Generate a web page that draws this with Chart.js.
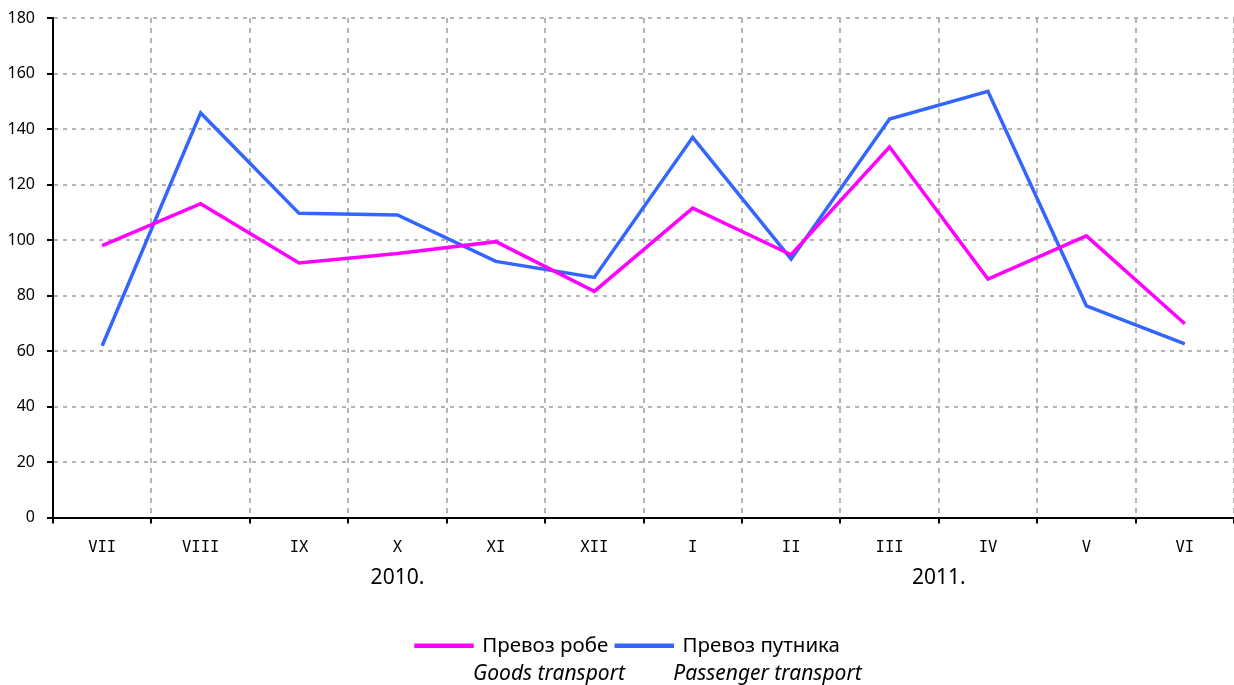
<!DOCTYPE html>
<html>
<head>
<meta charset="utf-8">
<script src="https://cdn.jsdelivr.net/npm/chart.js@4"></script>
<style>
body { margin: 0; background: #fff; }
#wrap { width: 1234px; height: 685px; }
</style>
</head>
<body>
<div id="wrap"><canvas id="chartLine"></canvas></div>
<script>
// podaci
var months = ['VII', 'VIII', 'IX', 'X', 'XI', 'XII', 'I', 'II', 'III', 'IV', 'V', 'VI'];
var goods = [98.0, 113.1, 91.7, 95.1, 99.4, 81.5, 111.5, 94.7, 133.5, 85.9, 101.5, 69.8];
var passengers = [61.9, 145.8, 109.6, 109.0, 92.3, 86.5, 137.0, 93.1, 143.6, 153.6, 76.3, 62.6];
var seriesNames = ['Превоз робе', 'Превоз путника'];
var seriesNamesEn = ['Goods transport', 'Passenger transport'];
var years = ['2010.', '2011.'];
var yTicks = [0, 20, 40, 60, 80, 100, 120, 140, 160, 180];

var FONT = '"Noto Sans", "DejaVu Sans", sans-serif';

/* godine ispod meseci + engleski nazivi u legendi */
var extraText = {
    id: 'extraText',
    afterLayout: function (chart) {
        // legenda malo udesno kao na originalu
        var lg = chart.legend;
        lg.left += 11;
        lg.right += 11;
    },
    afterDraw: function (chart) {
        var ctx = chart.ctx;
        var xs = chart.scales.x;
        ctx.save();
        ctx.fillStyle = '#000';
        ctx.textBaseline = 'middle';
        ctx.textAlign = 'center';
        ctx.font = '21px ' + FONT;
        ctx.fillText(years[0], xs.getPixelForValue(3), xs.top + 61);
        ctx.fillText(years[1], xs.getPixelForValue(8.5), xs.top + 61);

        ctx.textAlign = 'left';
        ctx.font = 'italic 21px ' + FONT;
        var boxes = chart.legend.legendHitBoxes || [];
        for (var i = 0; i < boxes.length; i++) {
            var b = boxes[i];
            ctx.fillText(seriesNamesEn[i], b.left + 57, b.top + b.height / 2 + 28);
        }
        ctx.restore();
    }
};

var chartLine = document.getElementById('chartLine').getContext('2d');
new Chart(chartLine, {
    type: 'line',
    data: {
        labels: months,
        datasets: [{
            label: seriesNames[0],
            data: goods,
            borderColor: '#ff00ff',
            backgroundColor: '#ff00ff',
            borderWidth: 3.5,
            pointRadius: 0,
            tension: 0,
            fill: false
        }, {
            label: seriesNames[1],
            data: passengers,
            borderColor: '#3366ff',
            backgroundColor: '#3366ff',
            borderWidth: 3.5,
            pointRadius: 0,
            tension: 0,
            fill: false
        }]
    },
    options: {
        responsive: true,
        maintainAspectRatio: false,
        animation: false,
        layout: { padding: { top: 18, right: 0, bottom: 19, left: 0 } },
        plugins: {
            tooltip: { enabled: false },
            legend: {
                position: 'bottom',
                labels: {
                    boxWidth: 56,
                    boxHeight: 1,
                    padding: 8,
                    color: '#000',
                    font: { family: FONT, size: 20.5 }
                }
            }
        },
        scales: {
            x: {
                offset: true,
                afterFit: function (scale) { scale.height = 110; },
                grid: {
                    offset: true,
                    color: '#b4b4b4',
                    lineWidth: 2,
                    tickColor: '#000',
                    tickLength: 6,
                    tickWidth: 2
                },
                border: { color: '#000', width: 2, dash: [5, 5] },
                ticks: {
                    color: '#000',
                    padding: 15,
                    maxRotation: 0,
                    autoSkip: false,
                    font: { family: '"DejaVu Sans Mono", monospace', size: 15.5 }
                }
            },
            y: {
                min: 0,
                max: 180,
                afterFit: function (scale) {
                    scale.width = 53;
                    scale.paddingTop = 0;
                },
                afterBuildTicks: function (scale) {
                    scale.ticks = yTicks.map(function (v) { return { value: v }; });
                },
                grid: {
                    color: '#b4b4b4',
                    lineWidth: 2,
                    tickColor: '#000',
                    tickLength: 6,
                    tickWidth: 2
                },
                border: { color: '#000', width: 2, dash: [4, 5] },
                ticks: {
                    color: '#000',
                    padding: 12,
                    font: { family: FONT, size: 16 }
                }
            }
        }
    },
    plugins: [extraText]
});
</script>
</body>
</html>
